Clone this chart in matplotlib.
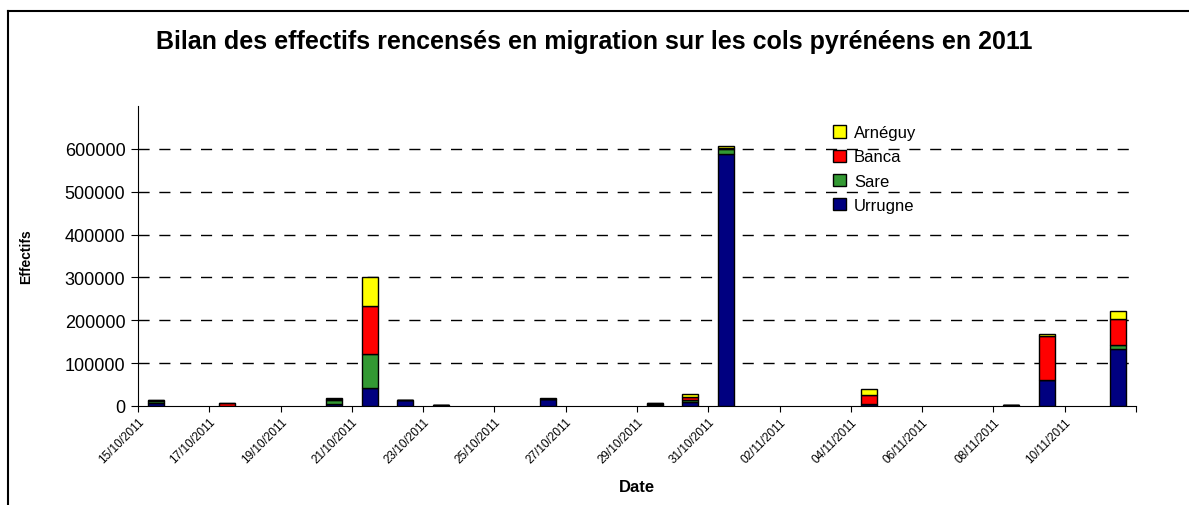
import matplotlib.pyplot as plt
import matplotlib.dates as mdates
import matplotlib.transforms as mtransforms
from matplotlib.lines import Line2D
import numpy as np
import pandas as pd

plt.rcParams['font.family'] = ['Liberation Sans', 'DejaVu Sans']

dates = ['15/10/2011', '17/10/2011', '20/10/2011', '21/10/2011', '22/10/2011',
         '23/10/2011', '26/10/2011', '29/10/2011', '30/10/2011', '31/10/2011',
         '04/11/2011', '08/11/2011', '09/11/2011', '11/11/2011']
urrugne = [8000, 1000, 4000, 42000, 13000, 2000, 16000, 3000, 9000, 589000, 4000, 2000, 60000, 132000]
sare = [3000, 0, 9000, 79000, 0, 0, 1000, 2000, 5000, 10000, 0, 0, 0, 10000]
banca = [2000, 5000, 4000, 112000, 0, 0, 0, 1000, 7000, 3000, 21000, 0, 103000, 60000]
arneguy = [1000, 1000, 2000, 68000, 0, 0, 1000, 0, 7000, 5000, 15000, 0, 5000, 20000]

series = [('Urrugne', urrugne, '#000080'), ('Sare', sare, '#339933'),
          ('Banca', banca, '#ff0000'), ('Arnéguy', arneguy, '#ffff00')]

x = mdates.date2num(pd.to_datetime(dates, format='%d/%m/%Y'))
start = mdates.date2num(pd.Timestamp('2011-10-15'))
end = mdates.date2num(pd.Timestamp('2011-11-11'))

fig = plt.figure(figsize=(11.89, 5.06), dpi=100)
ax = fig.add_axes([0.116, 0.1957, 0.8394, 0.5928])

bottom = np.zeros(len(x))
handles = {}
for name, vals, color in series:
    vals = np.array(vals)
    b = ax.bar(x, vals, width=0.45, bottom=bottom, color=color,
               edgecolor='black', linewidth=1, zorder=3)
    handles[name] = b
    bottom += vals

ax.set_xlim(start - 0.5, end + 0.5)
ax.set_ylim(0, 700000)
ax.set_yticks(np.arange(0, 600001, 100000))
ax.set_yticklabels([str(v) for v in range(0, 600001, 100000)], fontsize=13)
for v in range(100000, 600001, 100000):
    ax.axhline(v, color='black', linestyle=(0, (8, 7)), linewidth=1, zorder=1)

ticks = np.arange(start - 0.5, end + 0.6, 2)
ax.set_xticks(ticks)
labels = [mdates.num2date(t + 0.5).strftime('%d/%m/%Y') for t in ticks[:-1]] + ['']
ax.set_xticklabels(labels, rotation=45, ha='right', rotation_mode='anchor', fontsize=8.5)
shift = mtransforms.ScaledTranslation(-8 / 100, 0, fig.dpi_scale_trans)
for lab in ax.get_xticklabels():
    lab.set_transform(lab.get_transform() + shift)
ax.tick_params(axis='x', length=4, pad=3)
ax.tick_params(axis='y', length=5, pad=4)

ax.spines['top'].set_visible(False)
ax.spines['right'].set_visible(False)

ax.set_xlabel('Date', fontsize=12, fontweight='bold', labelpad=10)
ax.set_ylabel('Effectifs', fontsize=10, fontweight='bold')
ax.yaxis.set_label_coords(-0.105, 0.5)

fig.suptitle('Bilan des effectifs rencensés en migration sur les cols pyrénéens en 2011',
             fontsize=18, fontweight='bold', y=0.94)

order = ['Arnéguy', 'Banca', 'Sare', 'Urrugne']
fig.legend([handles[n] for n in order], order, loc='upper left',
           bbox_to_anchor=(0.688, 0.78), frameon=False, fontsize=12,
           handlelength=0.75, handleheight=0.75, labelspacing=0.55, handletextpad=0.5)

fig.add_artist(Line2D([8 / 1189, 8 / 1189], [0, 1 - 12 / 506], color='black', linewidth=1.5))
fig.add_artist(Line2D([8 / 1189, 1], [1 - 12 / 506, 1 - 12 / 506], color='black', linewidth=1.5))

fig.savefig('out.png', dpi=100)
